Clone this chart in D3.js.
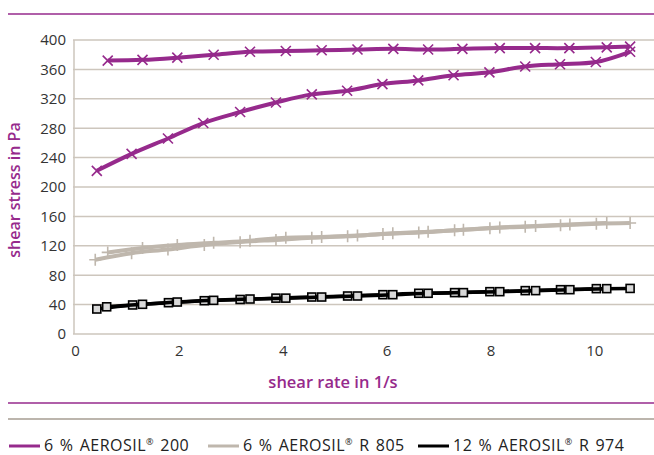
<!DOCTYPE html>
<html>
<head>
<meta charset="utf-8">
<script src="https://cdn.jsdelivr.net/npm/d3@7"></script>
<style>
  body { margin: 0; background: #fff; }
  text { font-family: "Open Sans", sans-serif; }
</style>
</head>
<body>
<div id="chart"></div>
<script>
// DATA ---------------------------------------------------------------
// 6 % AEROSIL 200 (two curves, up and down)
let a200_up_x = [0.42, 1.09, 1.79, 2.47, 3.18, 3.87, 4.56, 5.24, 5.92, 6.61, 7.29, 7.98, 8.67, 9.34, 10.03, 10.69];
let a200_up_y = [222, 245, 266, 287, 302, 315, 326, 331, 340, 345, 352, 356, 364, 367, 370, 384];
let a200_down_x = [0.63, 1.3, 1.97, 2.67, 3.37, 4.06, 4.75, 5.44, 6.13, 6.8, 7.46, 8.18, 8.86, 9.52, 10.24, 10.69];
let a200_down_y = [372, 373, 376, 380, 384, 385, 386, 387, 388, 387, 388, 389, 389, 389, 390, 391];

// 6 % AEROSIL R 805
let r805_up_x = [0.39, 1.09, 1.79, 2.49, 3.18, 3.87, 4.56, 5.25, 5.93, 6.62, 7.31, 7.99, 8.67, 9.35, 10.04, 10.69];
let r805_up_y = [101, 110, 115, 121, 125, 128, 131, 133, 136, 138, 141, 144, 146, 148, 150, 151];
let r805_down_x = [0.63, 1.3, 1.97, 2.67, 3.37, 4.06, 4.75, 5.44, 6.12, 6.8, 7.48, 8.18, 8.87, 9.53, 10.24];
let r805_down_y = [111, 117, 121, 124, 127, 131, 132, 134, 137, 139, 142, 145, 147, 149, 151];

// 12 % AEROSIL R 974
let r974_up_x = [0.42, 1.11, 1.8, 2.49, 3.18, 3.87, 4.56, 5.25, 5.93, 6.62, 7.31, 7.99, 8.67, 9.35, 10.04, 10.69];
let r974_up_y = [34, 39.5, 42.6, 45.3, 47, 48.8, 50.3, 51.7, 53.5, 55.4, 56.3, 57.6, 59, 60.3, 61.7, 62];
let r974_down_x = [0.61, 1.3, 1.97, 2.67, 3.37, 4.06, 4.75, 5.44, 6.12, 6.8, 7.48, 8.18, 8.87, 9.53, 10.24];
let r974_down_y = [37, 40.4, 43.5, 45.8, 47.6, 48.8, 50.3, 51.7, 53.5, 55.4, 56.3, 57.6, 59, 60.3, 61.7];

let x_ticks = [0, 2, 4, 6, 8, 10];
let y_ticks = [0, 40, 80, 120, 160, 200, 240, 280, 320, 360, 400];
let legend_names = ["6 % AEROSIL", "6 % AEROSIL", "12 % AEROSIL"];
let legend_suffix = [" 200", " R 805", " R 974"];

// STYLES -------------------------------------------------------------
let PURPLE = "#962a8c";
let GRAY = "#bfb7ad";
let BLACK = "#000000";
let GRID = "#cdc6bd";

let width = 654;
let height = 455;
let plot = { left: 75, right: 654, top: 40, bottom: 334 };

let svg = d3
  .select("#chart")
  .append("svg")
  .attr("width", width)
  .attr("height", height);

let x = d3.scaleLinear().domain([0, 11.15]).range([plot.left, plot.right]);
let y = d3.scaleLinear().domain([0, 400]).range([plot.bottom, plot.top]);

// rule lines top and bottom
svg.append("line")
  .attr("x1", 8).attr("x2", width).attr("y1", 14).attr("y2", 14)
  .attr("stroke", PURPLE).attr("stroke-width", 1.5);
svg.append("line")
  .attr("x1", 8).attr("x2", width).attr("y1", 403).attr("y2", 403)
  .attr("stroke", PURPLE).attr("stroke-width", 1.5);
svg.append("line")
  .attr("x1", 8).attr("x2", width).attr("y1", 419).attr("y2", 419)
  .attr("stroke", "#a69d92").attr("stroke-width", 1.5);

// gridlines
svg.append("g")
  .selectAll("line")
  .data(y_ticks)
  .enter()
  .append("line")
  .attr("x1", plot.left - 2)
  .attr("x2", plot.right)
  .attr("y1", (d) => y(d))
  .attr("y2", (d) => y(d))
  .attr("stroke", GRID)
  .attr("stroke-width", 1.5);

// y axis line
svg.append("line")
  .attr("x1", plot.left - 1).attr("x2", plot.left - 1)
  .attr("y1", plot.top).attr("y2", plot.bottom)
  .attr("stroke", GRID).attr("stroke-width", 1.5);

// y tick labels
let y_axis = d3.axisLeft(y).tickValues(y_ticks).tickSize(0).tickPadding(8);
svg.append("g")
  .attr("transform", "translate(" + (plot.left - 1) + ",0)")
  .call(y_axis)
  .call((g) => g.select(".domain").remove())
  .selectAll("text")
  .attr("font-family", "Open Sans, sans-serif")
  .attr("font-size", 15)
  .attr("fill", "#333");

// x tick labels
let x_axis = d3.axisBottom(x).tickValues(x_ticks).tickSize(0).tickPadding(11);
svg.append("g")
  .attr("transform", "translate(0," + plot.bottom + ")")
  .call(x_axis)
  .call((g) => g.select(".domain").remove())
  .selectAll("text")
  .attr("font-family", "Open Sans, sans-serif")
  .attr("font-size", 15)
  .attr("fill", "#333");

// axis titles
svg.append("text")
  .attr("x", 333)
  .attr("y", 388)
  .attr("text-anchor", "middle")
  .attr("font-size", 16.5)
  .attr("font-weight", 600)
  .attr("fill", PURPLE)
  .text("shear rate in 1/s");

svg.append("text")
  .attr("transform", "translate(20,190) rotate(-90)")
  .attr("text-anchor", "middle")
  .attr("font-size", 16)
  .attr("font-weight", 600)
  .attr("fill", PURPLE)
  .text("shear stress in Pa");

// series -------------------------------------------------------------
function zip(xs, ys) {
  return xs.map((d, i) => [d, ys[i]]);
}

let curves = [
  { pts: zip(a200_up_x, a200_up_y), color: PURPLE, w: 4, marker: "x" },
  { pts: zip(a200_down_x, a200_down_y), color: PURPLE, w: 4, marker: "x" },
  { pts: zip(r805_up_x, r805_up_y), color: GRAY, w: 4, marker: "+" },
  { pts: zip(r805_down_x, r805_down_y), color: GRAY, w: 4, marker: "+" },
  { pts: zip(r974_up_x, r974_up_y), color: BLACK, w: 3.5, marker: "sq" },
  { pts: zip(r974_down_x, r974_down_y), color: BLACK, w: 3.5, marker: "sq" },
];

let line = d3
  .line()
  .x((d) => x(d[0]))
  .y((d) => y(d[1]))
  .curve(d3.curveCatmullRom.alpha(0.5));

curves.forEach((c) => {
  svg.append("path")
    .attr("d", line(c.pts))
    .attr("fill", "none")
    .attr("stroke", c.color)
    .attr("stroke-width", c.w)
    .attr("stroke-linejoin", "round");

  let g = svg.append("g");
  if (c.marker == "x") {
    g.selectAll("path")
      .data(c.pts)
      .enter()
      .append("path")
      .attr("d", (d) => {
        let cx = x(d[0]), cy = y(d[1]), s = 5;
        return "M" + (cx - s) + "," + (cy - s) + "L" + (cx + s) + "," + (cy + s) +
          "M" + (cx - s) + "," + (cy + s) + "L" + (cx + s) + "," + (cy - s);
      })
      .attr("stroke", c.color)
      .attr("stroke-width", 1.6);
  } else if (c.marker == "+") {
    g.selectAll("path")
      .data(c.pts)
      .enter()
      .append("path")
      .attr("d", (d) => {
        let cx = x(d[0]), cy = y(d[1]), s = 6;
        return "M" + cx + "," + (cy - s) + "L" + cx + "," + (cy + s) +
          "M" + (cx - s) + "," + cy + "L" + (cx + s) + "," + cy;
      })
      .attr("stroke", c.color)
      .attr("stroke-width", 1.6);
  } else {
    g.selectAll("rect")
      .data(c.pts)
      .enter()
      .append("rect")
      .attr("x", (d) => x(d[0]) - 4)
      .attr("y", (d) => y(d[1]) - 4)
      .attr("width", 8)
      .attr("height", 8)
      .attr("fill", "#d8d8d8")
      .attr("stroke", c.color)
      .attr("stroke-width", 1.6);
  }
});

// legend -------------------------------------------------------------
let legend_colors = [PURPLE, GRAY, BLACK];
let legend_x = [9, 208, 418];

let legend = svg.append("g")
  .selectAll("g")
  .data(legend_names)
  .enter()
  .append("g")
  .attr("transform", (d, i) => "translate(" + legend_x[i] + ",446)");

legend.append("line")
  .attr("x1", 0).attr("x2", 31)
  .attr("y1", 0).attr("y2", 0)
  .attr("stroke", (d, i) => legend_colors[i])
  .attr("stroke-width", 3);

let legend_text = legend.append("text")
  .attr("x", 35)
  .attr("y", 5)
  .attr("font-size", 16)
  .attr("letter-spacing", 0.5)
  .attr("word-spacing", 1.5)
  .attr("fill", "#222");

legend_text.append("tspan").text((d) => d);
legend_text.append("tspan")
  .attr("font-size", 9)
  .attr("dy", -6)
  .text("\u00AE");
legend_text.append("tspan")
  .attr("dy", 6)
  .text((d, i) => legend_suffix[i]);
</script>
</body>
</html>
